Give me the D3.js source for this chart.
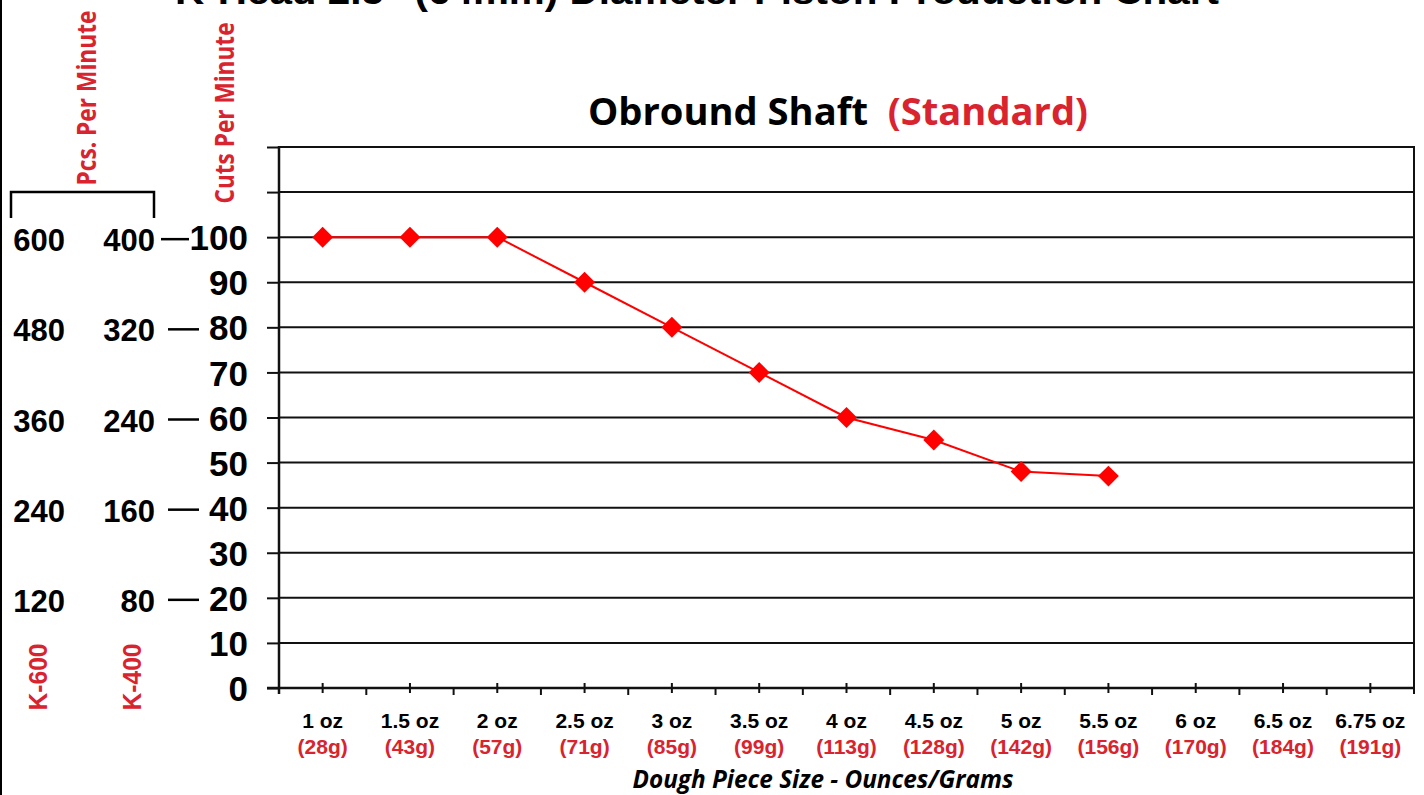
<!DOCTYPE html>
<html>
<head>
<meta charset="utf-8">
<script src="https://cdn.jsdelivr.net/npm/d3@7"></script>
<style>
  body { margin: 0; background: #fff; }
  svg { display: block; }
  .num { font-family: "Liberation Sans", Arial, sans-serif; font-weight: bold; }
  .myr { font-family: "Open Sans", "Noto Sans", sans-serif; font-weight: bold; }
</style>
</head>
<body>
<div id="grafico"></div>
<script>
// dados do grafico
var categorias = ["1 oz", "1.5 oz", "2 oz", "2.5 oz", "3 oz", "3.5 oz", "4 oz", "4.5 oz", "5 oz", "5.5 oz", "6 oz", "6.5 oz", "6.75 oz"];
var gramas = ["(28g)", "(43g)", "(57g)", "(71g)", "(85g)", "(99g)", "(113g)", "(128g)", "(142g)", "(156g)", "(170g)", "(184g)", "(191g)"];
var cortes = [100, 100, 100, 90, 80, 70, 60, 55, 48, 47];
var ticks_cortes = [0, 10, 20, 30, 40, 50, 60, 70, 80, 90, 100];
var linhas_cortes = [100, 80, 60, 40, 20];
var pcs_k600 = [600, 480, 360, 240, 120];
var pcs_k400 = [400, 320, 240, 160, 80];

var width = 1424, height = 795;
var esq = 279, dir = 1414, topo = 147, base = 688;
var vermelho = '#d9232e';

var svg = d3.select("#grafico")
            .append("svg")
            .attr("width", width)
            .attr("height", height);

var x = d3.scaleBand()
          .domain(categorias)
          .range([esq, dir]);

var y = d3.scaleLinear()
          .domain([0, 120])
          .range([base, topo]);

// borda esquerda da imagem
svg.append("line")
   .attr("x1", 1).attr("x2", 1)
   .attr("y1", 0).attr("y2", height)
   .style("stroke", "#000").style("stroke-width", 2);

// titulo (cortado no topo, como no original)
svg.append("text")
   .attr("class", "num")
   .attr("x", 697).attr("y", 4)
   .attr("text-anchor", "middle")
   .attr("textLength", 1044)
   .attr("lengthAdjust", "spacingAndGlyphs")
   .style("font-size", "36px")
   .text("K-Head 2.5\" (64mm) Diameter Piston Production Chart");

// subtitulo
var sub = svg.append("text")
   .attr("class", "myr")
   .attr("x", 838).attr("y", 125)
   .attr("text-anchor", "middle")
   .attr("textLength", 500)
   .attr("lengthAdjust", "spacingAndGlyphs")
   .style("white-space", "pre")
   .style("font-size", "37px");
sub.append("tspan").attr("fill", "#000").text("Obround Shaft  ");
sub.append("tspan").attr("fill", vermelho).text("(Standard)");

// linhas de grade
svg.append("g")
   .selectAll("line")
   .data(d3.range(10, 121, 10))
   .enter()
   .append("line")
   .attr("x1", esq).attr("x2", dir)
   .attr("y1", function(d){ return y(d); })
   .attr("y2", function(d){ return y(d); })
   .style("stroke", "#111")
   .style("stroke-width", 2);

// eixo y
var yAxis = d3.axisLeft(y)
              .tickValues(d3.range(0, 121, 10))
              .tickSize(12)
              .tickPadding(19)
              .tickFormat(function(d){ return ticks_cortes.indexOf(d) >= 0 ? d : ""; });

var gy = svg.append("g")
            .attr("transform", "translate(" + esq + ",0)")
            .call(yAxis);
gy.select(".domain").remove();
gy.selectAll(".tick line").style("stroke", "#111").style("stroke-width", 2);
gy.selectAll(".tick text")
  .attr("class", "num")
  .attr("dy", "0.36em")
  .style("font-size", "35px")
  .style("fill", "#000");

svg.append("line")
   .attr("x1", esq).attr("x2", esq)
   .attr("y1", topo - 1).attr("y2", base + 6)
   .style("stroke", "#111").style("stroke-width", 2.5);

svg.append("line")
   .attr("x1", dir).attr("x2", dir)
   .attr("y1", topo - 1).attr("y2", base + 6)
   .style("stroke", "#111").style("stroke-width", 2);

// eixo x
svg.append("line")
   .attr("x1", esq - 12).attr("x2", dir)
   .attr("y1", base).attr("y2", base)
   .style("stroke", "#111").style("stroke-width", 2.5);

svg.append("g")
   .selectAll("line")
   .data(categorias)
   .enter()
   .append("line")
   .attr("x1", function(d){ return x(d) + x.bandwidth() / 2; })
   .attr("x2", function(d){ return x(d) + x.bandwidth() / 2; })
   .attr("y1", base - 5).attr("y2", base + 5)
   .style("stroke", "#111").style("stroke-width", 2);

svg.append("g")
   .selectAll("line")
   .data(categorias.slice(1))
   .enter()
   .append("line")
   .attr("x1", function(d){ return x(d); })
   .attr("x2", function(d){ return x(d); })
   .attr("y1", base).attr("y2", base + 7)
   .style("stroke", "#111").style("stroke-width", 2);

svg.append("g")
   .selectAll("text")
   .data(categorias)
   .enter()
   .append("text")
   .attr("class", "num")
   .attr("x", function(d){ return x(d) + x.bandwidth() / 2; })
   .attr("y", 728)
   .attr("text-anchor", "middle")
   .style("font-size", "21px")
   .text(function(d){ return d; });

svg.append("g")
   .selectAll("text")
   .data(gramas)
   .enter()
   .append("text")
   .attr("class", "num")
   .attr("x", function(d, i){ return x(categorias[i]) + x.bandwidth() / 2; })
   .attr("y", 754)
   .attr("text-anchor", "middle")
   .style("font-size", "21px")
   .style("fill", vermelho)
   .text(function(d){ return d; });

svg.append("text")
   .attr("class", "myr")
   .attr("x", 823).attr("y", 788)
   .attr("text-anchor", "middle")
   .attr("textLength", 381)
   .attr("lengthAdjust", "spacingAndGlyphs")
   .style("font-size", "25px")
   .style("font-style", "italic")
   .text("Dough Piece Size - Ounces/Grams");

// colunas da esquerda (pecas por minuto)
svg.append("g")
   .selectAll("text")
   .data(pcs_k600)
   .enter()
   .append("text")
   .attr("class", "num")
   .attr("x", 65)
   .attr("y", function(d, i){ return y(linhas_cortes[i]) + 3; })
   .attr("dy", "0.36em")
   .attr("text-anchor", "end")
   .style("font-size", "31px")
   .text(function(d){ return d; });

svg.append("g")
   .selectAll("text")
   .data(pcs_k400)
   .enter()
   .append("text")
   .attr("class", "num")
   .attr("x", 155)
   .attr("y", function(d, i){ return y(linhas_cortes[i]) + 3; })
   .attr("dy", "0.36em")
   .attr("text-anchor", "end")
   .style("font-size", "31px")
   .text(function(d){ return d; });

svg.append("g")
   .selectAll("line")
   .data(linhas_cortes)
   .enter()
   .append("line")
   .attr("x1", function(d){ return d == 100 ? 161 : 168; })
   .attr("x2", function(d){ return d == 100 ? 189 : 199; })
   .attr("y1", function(d){ return y(d) + 2; })
   .attr("y2", function(d){ return y(d) + 2; })
   .style("stroke", "#000").style("stroke-width", 2.5);

// colchete
svg.append("path")
   .attr("d", "M11,218 V192 H154 V218")
   .style("fill", "none")
   .style("stroke", "#000")
   .style("stroke-width", 2.5);

function rotulo_vertical(cx, cy, tamanho, comp, classe, texto){
    svg.append("text")
       .attr("class", classe)
       .attr("transform", "translate(" + cx + "," + cy + ") rotate(-90)")
       .attr("text-anchor", "middle")
       .attr("dy", "0.35em")
       .attr("textLength", comp)
       .attr("lengthAdjust", "spacingAndGlyphs")
       .style("font-size", tamanho)
       .style("fill", vermelho)
       .text(texto);
}

rotulo_vertical(87, 98, "27px", 175, "myr", "Pcs. Per Minute");
rotulo_vertical(225, 113, "27px", 181, "myr", "Cuts Per Minute");
rotulo_vertical(38, 677, "26px", 67, "num", "K-600");
rotulo_vertical(132, 677, "26px", 67, "num", "K-400");

// serie
var pontos = cortes.map(function(v, i){ return {cat: categorias[i], valor: v}; });

var linha = d3.line()
              .x(function(d){ return x(d.cat) + x.bandwidth() / 2; })
              .y(function(d){ return y(d.valor); });

svg.append("path")
   .datum(pontos)
   .attr("d", linha)
   .style("fill", "none")
   .style("stroke", "#ff0000")
   .style("stroke-width", 2);

svg.append("g")
   .selectAll("path")
   .data(pontos)
   .enter()
   .append("path")
   .attr("d", d3.symbol().type(d3.symbolDiamond2).size(280))
   .attr("transform", function(d){
       return "translate(" + (x(d.cat) + x.bandwidth() / 2) + "," + y(d.valor) + ")";
   })
   .style("fill", "#ff0000");
</script>
</body>
</html>
